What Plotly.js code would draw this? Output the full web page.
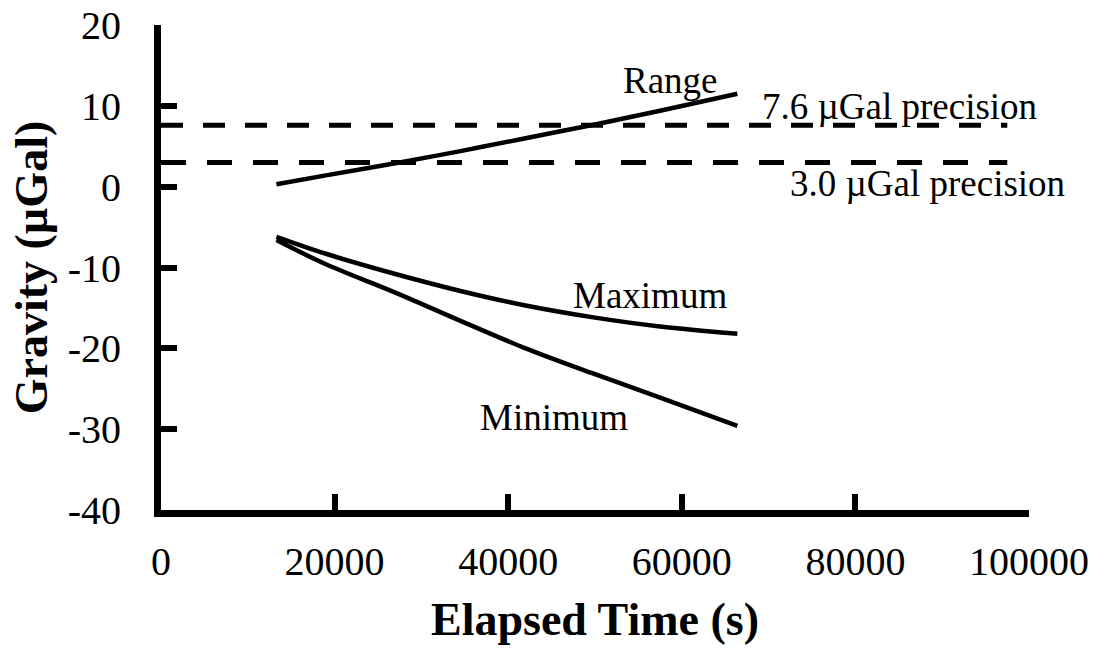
<!DOCTYPE html>
<html>
<head>
<meta charset="utf-8">
<script src="https://cdn.plot.ly/plotly-3.0.1.min.js"></script>
<style>
html,body{margin:0;padding:0;background:#fff;}
#chart{width:1104px;height:651px;}
#chart svg text{font-family:'Liberation Serif', serif !important;}
</style>
</head>
<body>
<div id="chart"></div>
<script>
// Elapsed time (s)
var timeS = [13300, 19000, 27000, 34500, 42000, 50000, 57500, 66400];
// Gravity (µGal)
var rangeVals = [0.3, 1.4, 2.9, 4.4, 6.0, 7.7, 9.4, 11.5];
var maxVals   = [-6.2, -8.3, -10.8, -12.9, -14.7, -16.2, -17.3, -18.2];
var minVals   = [-6.6, -9.6, -13.1, -16.6, -20.0, -23.2, -26.1, -29.6];
// Precision thresholds
var precX = [0, 97500];
var prec76 = [7.6, 7.6];
var prec30 = [3.0, 3.0];
var xTicks = [0, 20000, 40000, 60000, 80000, 100000];
var yTicks = [-40, -30, -20, -10, 0, 10, 20];

var fam = 'Liberation Serif';
var solid = {color: '#000', width: 4.5, shape: 'spline'};

var traces = [
  {x: timeS, y: rangeVals, mode: 'lines', line: solid, name: 'Range'},
  {x: timeS, y: maxVals, mode: 'lines', line: solid, name: 'Maximum'},
  {x: timeS, y: minVals, mode: 'lines', line: solid, name: 'Minimum'},
  {x: precX, y: prec76, mode: 'lines', line: {color: '#000', width: 5, dash: '22px,20px'}, name: '7.6'},
  {x: precX, y: prec30, mode: 'lines', line: {color: '#000', width: 5, dash: '25px,21px'}, name: '3.0'}
];

function annot(x, y, text, anchor) {
  return {x: x, y: y, text: text, showarrow: false, xanchor: anchor, yanchor: 'middle',
          font: {family: fam, size: 37, color: '#000'}};
}

var layout = {
  width: 1104, height: 651,
  margin: {l: 161, r: 75, t: 25, b: 141},
  paper_bgcolor: '#fff', plot_bgcolor: '#fff',
  showlegend: false,
  font: {family: fam, color: '#000', size: 40},
  xaxis: {
    range: [0, 100000], tickvals: xTicks, ticktext: xTicks.map(String),
    showgrid: false, zeroline: false, showline: true, linecolor: '#000', linewidth: 7,
    ticks: 'inside', ticklen: 16, tickwidth: 6, tickcolor: '#000',
    tickfont: {family: fam, size: 40, color: '#000'},
    ticklabelstandoff: 10,
    title: {text: 'Elapsed Time (s)', font: {family: fam, size: 46, color: '#000', weight: 'bold'}, standoff: 22}
  },
  yaxis: {
    range: [-40, 20], tickvals: yTicks, ticktext: yTicks.map(String),
    showgrid: false, zeroline: false, showline: true, linecolor: '#000', linewidth: 7,
    ticks: 'inside', ticklen: 16, tickwidth: 6, tickcolor: '#000',
    tickfont: {family: fam, size: 40, color: '#000'},
    ticklabelstandoff: 25,
    title: {text: 'Gravity (µGal)', font: {family: fam, size: 46, color: '#000', weight: 'bold'}, standoff: 8}
  },
  annotations: [
    annot(58640, 13.1, 'Range', 'center'),
    annot(56340, -13.5, 'Maximum', 'center'),
    annot(45280, -28.5, 'Minimum', 'center'),
    annot(69000, 9.9, '7.6 µGal precision', 'left'),
    annot(72240, 0.4, '3.0 µGal precision', 'left')
  ]
};

Plotly.newPlot('chart', traces, layout, {displayModeBar: false, staticPlot: true});
</script>
</body>
</html>
